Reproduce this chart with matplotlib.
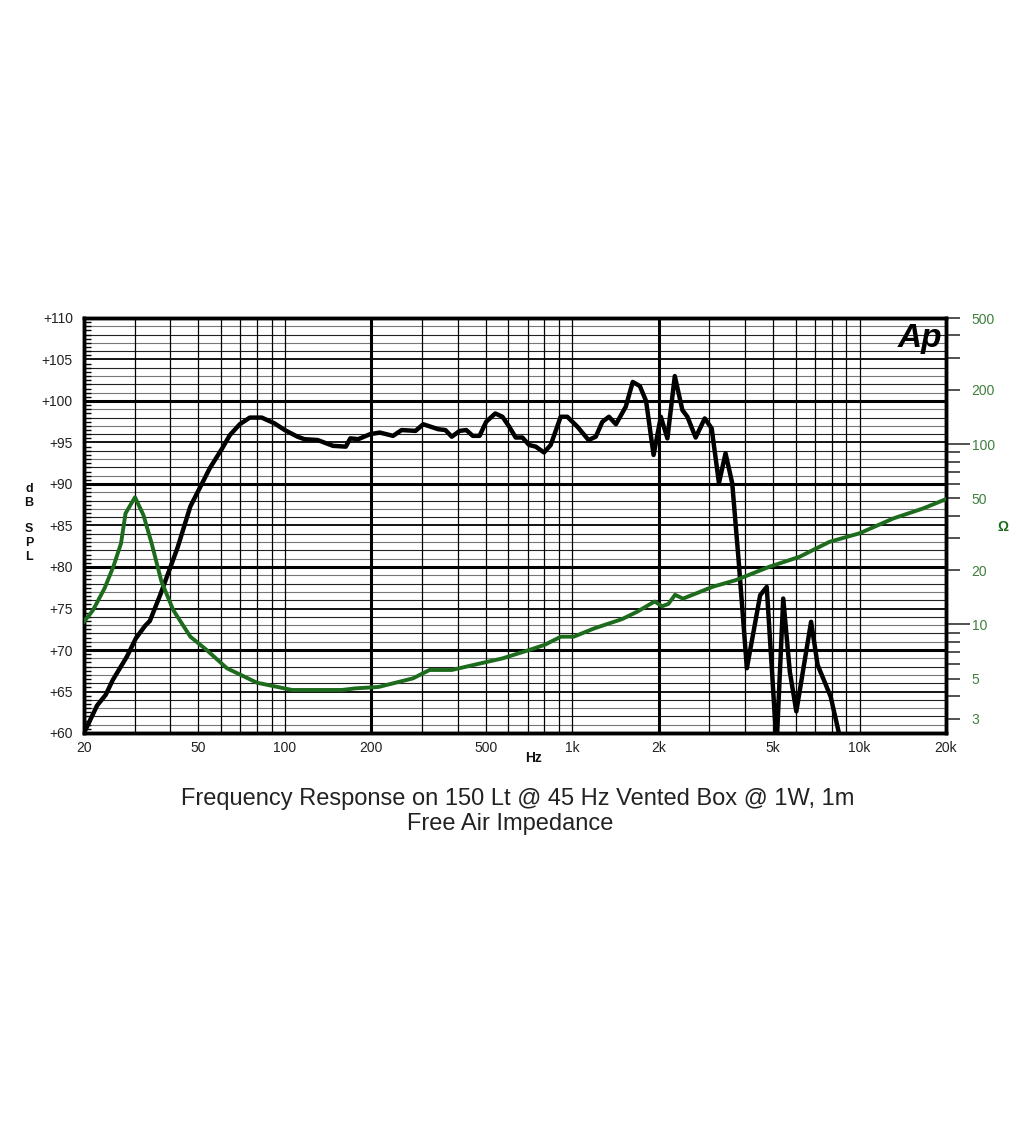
import matplotlib
matplotlib.use("Agg")
import matplotlib.pyplot as plt
import numpy as np
from matplotlib.ticker import FixedLocator, FuncFormatter, MultipleLocator, NullLocator

plt.rcParams['font.family'] = ['Liberation Sans', 'DejaVu Sans']

# SPL response (Hz, dB) ---------------------------
freq_spl = [20, 22.2, 23.8, 25.2, 28.2, 30.3, 32.6, 33.9, 36.8, 39.6, 42.3, 46.9,
            50.7, 54.8, 60.3, 64.4, 69.7, 75.5, 83.1, 92.1, 99.9, 110.7, 117, 130,
            147, 163, 169, 180, 198, 214, 238, 255, 285, 303, 342, 362, 381, 406,
            428, 451, 476, 502, 540, 572, 604, 636, 671, 708, 747, 798, 842, 912,
            962, 1043, 1140, 1208, 1274, 1343, 1420, 1536, 1625, 1720, 1808, 1920,
            2035, 2145, 2276, 2419, 2518, 2690, 2893, 3059, 3242, 3418, 3606, 3796,
            4055, 4511, 4755, 5146, 5427, 5720, 6028, 6784, 7150, 7934, 8478, 9000]
spl = [60, 63.3, 64.6, 66.4, 69.2, 71.4, 72.9, 73.5, 76.6, 79.6, 82.3, 87.3,
       89.6, 91.9, 94.2, 95.9, 97.2, 98.0, 98.0, 97.3, 96.5, 95.7, 95.4, 95.3,
       94.6, 94.5, 95.5, 95.4, 96.0, 96.2, 95.8, 96.5, 96.4, 97.2, 96.6, 96.5, 95.7, 96.4,
       96.5, 95.8, 95.8, 97.5, 98.5, 98.1, 96.9, 95.6, 95.6, 94.7, 94.5, 93.8, 94.7, 98.1,
       98.1, 96.9, 95.3, 95.7, 97.5, 98.1, 97.2, 99.3, 102.3, 101.8, 100.0, 93.5,
       98.1, 95.5, 103.0, 98.9, 98.1, 95.6, 97.9, 96.7, 90.1, 93.7, 90.1, 80.8,
       67.8, 76.6, 77.6, 58.5, 76.2, 67.4, 62.6, 73.4, 68.2, 64.4, 60.0, 57.0]

# free air impedance (Hz, ohm) ---------------------
freq_z = [20, 21.5, 23.6, 25.3, 26.9, 27.9, 30.1, 32.2, 34.4, 37.2, 40.9, 46.9,
          53.5, 62.9, 80, 106, 158, 176, 212, 279, 319, 381, 508, 572, 706, 800,
          914, 1013, 1192, 1491, 1682, 1936, 2055, 2163, 2281, 2430, 3094, 3710,
          4864, 6180, 7860, 10000, 13120, 16680, 20000]
imp = [10.35, 12.0, 15.9, 20.9, 28.1, 41.3, 50.7, 40.4, 28.1, 17.3, 12.0, 8.55,
       7.2, 5.71, 4.75, 4.33, 4.33, 4.42, 4.5, 5.02, 5.59, 5.59, 6.21, 6.48, 7.2, 7.69,
       8.55, 8.55, 9.5, 10.7, 11.75, 13.4, 12.6, 13.0, 14.6, 13.9, 16.2, 17.6,
       20.9, 23.7, 28.7, 32.0, 38.7, 44.0, 49.5]

# axis labels --------------------------------------
x_ticks = [20, 50, 100, 200, 500, 1000, 2000, 5000, 10000, 20000]
x_labels = ['20', '50', '100', '200', '500', '1k', '2k', '5k', '10k', '20k']
z_major = [10, 100]
z_minor = [3, 4, 5, 6, 7, 8, 9, 20, 30, 40, 50, 60, 70, 80, 90, 200, 300, 400, 500]
z_labelled = [3, 5, 10, 20, 50, 100, 200, 500]

green = '#1d6b1d'
green_txt = '#3f7f3f'

fig = plt.figure(figsize=(10.24, 11.23), dpi=100)
ax = fig.add_axes([84/1024, 390/1123, 862/1024, 415/1123])
ax.set_xscale('log')
ax.set_xlim(20, 20000)
ax.set_ylim(60, 110)

# grid ---------------------------------------------
for d in range(61, 110):
    if d % 10 == 0:
        ax.axhline(d, color='black', lw=2.2, zorder=1)
    elif d % 5 == 0:
        ax.axhline(d, color='black', lw=1.3, zorder=1)
    elif d % 2 == 0:
        ax.axhline(d, color='#222222', lw=0.8, zorder=1)
    else:
        ax.axhline(d, color='#777777', lw=0.8, zorder=1)

vlines = [d*m for m in (10, 100, 1000) for d in range(2, 11)]
for f in vlines:
    if f in (20,):
        continue
    ax.axvline(f, color='black', lw=2.2 if f in (200, 2000) else 0.9, zorder=1)

for s in ax.spines.values():
    s.set_linewidth(2.5)

# curves -------------------------------------------
ax.plot(freq_spl, spl, color='black', lw=3.2, zorder=4, solid_joinstyle='round')

ax2 = ax.twinx()
ax2.set_yscale('log')
ax2.set_ylim(2.5, 500)
ax2.plot(freq_z, imp, color=green, lw=2.8, zorder=3, solid_joinstyle='round')
for s in ax2.spines.values():
    s.set_linewidth(2.5)

# ticks --------------------------------------------
ax.xaxis.set_major_locator(FixedLocator(x_ticks))
ax.set_xticklabels(x_labels)
ax.xaxis.set_minor_locator(NullLocator())
ax.tick_params(axis='x', length=0, pad=6, labelsize=10, labelcolor='#222222')

ax.yaxis.set_major_locator(MultipleLocator(5))
ax.yaxis.set_major_formatter(FuncFormatter(lambda v, p: '+%d' % v))
ax.yaxis.set_minor_locator(MultipleLocator(0.5))
ax.tick_params(axis='y', which='major', length=0, pad=8, labelsize=10, labelcolor='#222222')
ax.tick_params(axis='y', which='minor', direction='in', length=5, width=1, color='black')

ax2.yaxis.set_major_locator(FixedLocator(z_major))
ax2.yaxis.set_minor_locator(FixedLocator(z_minor))
fmt = FuncFormatter(lambda v, p: '%g' % v if round(v) in z_labelled else '')
ax2.yaxis.set_major_formatter(fmt)
ax2.yaxis.set_minor_formatter(fmt)
ax2.tick_params(axis='y', which='major', length=17, width=1.2, color='#333333',
                pad=1.5, labelsize=10, labelcolor=green_txt)
ax2.tick_params(axis='y', which='minor', length=10, width=1.2, color='#333333',
                pad=8.5, labelsize=10, labelcolor=green_txt)

# texts --------------------------------------------
ax.text(0.995, 0.93, 'Ap', transform=ax.transAxes, ha='right', va='baseline',
        fontsize=24, fontweight='bold', style='italic', color='black', zorder=5)

fig.text(29/1024, 1 - 496/1123, 'd\nB', ha='center', va='center', fontsize=9,
         fontweight='bold', linespacing=1.25, color='#111111')
fig.text(29/1024, 1 - 543/1123, 'S\nP\nL', ha='center', va='center', fontsize=9,
         fontweight='bold', linespacing=1.25, color='#111111')
fig.text(533/1024, 1 - 758/1123, 'Hz', ha='center', va='center', fontsize=10,
         fontweight='bold', color='#111111')
fig.text(1003/1024, 1 - 527/1123, 'Ω', ha='center', va='center', fontsize=10,
         fontweight='bold', color=green)

fig.text(518/1024, 1 - 799/1123, 'Frequency Response on 150 Lt @ 45 Hz Vented Box @ 1W, 1m',
         ha='center', va='center', fontsize=17, color='#222222')
fig.text(510/1024, 1 - 824/1123, 'Free Air Impedance',
         ha='center', va='center', fontsize=17, color='#222222')

fig.savefig('out.png', dpi=100, facecolor='white')
